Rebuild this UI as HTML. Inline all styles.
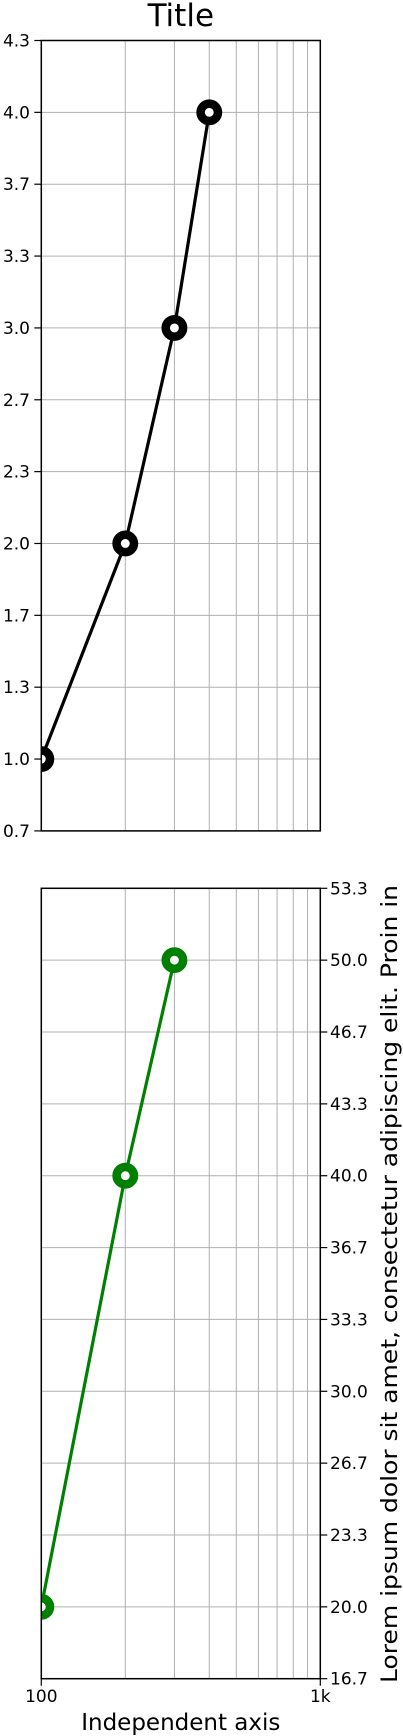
<!DOCTYPE html>
<html><head><meta charset="utf-8">
<style>
html,body{margin:0;padding:0;background:#fff;}
svg{display:block;font-family:"DejaVu Sans","Liberation Sans",sans-serif;}
</style></head>
<body>
<svg id="chart" width="403" height="1736" viewBox="0 0 403 1736" xmlns="http://www.w3.org/2000/svg">
<defs>
<clipPath id="clipTop"><rect x="41.3" y="40.5" width="279" height="790.4"/></clipPath>
<clipPath id="clipBot"><rect x="41.3" y="888.3" width="279" height="790.4"/></clipPath>
</defs>
<text x="180.8" y="26" font-size="31" text-anchor="middle">Title</text>
<g id="top"></g>
<g id="bot"></g>
<text x="180.8" y="1730" font-size="23" text-anchor="middle">Independent axis</text>
<text transform="translate(397,1683) rotate(-90)" font-size="22" textLength="798" lengthAdjust="spacingAndGlyphs">Lorem ipsum dolor sit amet, consectetur adipiscing elit. Proin in</text>
</svg>
<script>
const topX = [100, 200, 300, 400];
const topY = [1, 2, 3, 4];
const botX = [100, 200, 300];
const botY = [20, 40, 50];
const topTicks = ["0.7","1.0","1.3","1.7","2.0","2.3","2.7","3.0","3.3","3.7","4.0","4.3"];
const botTicks = ["16.7","20.0","23.3","26.7","30.0","33.3","36.7","40.0","43.3","46.7","50.0","53.3"];
const xTickLabels = ["100","1k"];

const NS = "http://www.w3.org/2000/svg";
const L = 41.3, R = 320.3;
function xs(v){ return L + (Math.log10(v) - 2) * (R - L); }
function mk(tag, attrs, parent){
  const e = document.createElementNS(NS, tag);
  for (const k in attrs) e.setAttribute(k, attrs[k]);
  parent.appendChild(e); return e;
}
function panel(g, top, bottom, ymin, ymax, ticks, xs_, ys_, color, clip, side){
  const ys = v => bottom - (v - ymin) / (ymax - ymin) * (bottom - top);
  // grid x
  for (let d = 1; d <= 10; d++){
    const x = xs(d * 100);
    const gl = mk("line", {x1:x, x2:x, y1:top, y2:bottom, stroke:"#b0b0b0", "stroke-width":1}, g);
    
    
  }
  ticks.forEach((t, i) => {
    const v = ymin + i * (ymax - ymin) / (ticks.length - 1);
    const y = ys(v);
    const gl = mk("line", {x1:L, x2:R, y1:y, y2:y, stroke:"#b0b0b0", "stroke-width":1}, g);
    
    
    const tx = side === "left" ? L : R;
    const tk = mk("line", {x1:tx, x2: side==="left" ? tx-7 : tx+7, y1:y, y2:y, stroke:"#000", "stroke-width":1.2}, g);
    
    
    const lb = mk("text", {x: side==="left" ? 30 : 330, y: y + 6, "font-size":17, "text-anchor": side==="left" ? "end" : "start"}, g);
    lb.textContent = t;
    
    
  });
  const cg = mk("g", {"clip-path":"url(#"+clip+")"}, g);
  const pts = xs_.map((x, i) => xs(x) + "," + ys(ys_[i])).join(" ");
  const pl = mk("polyline", {points:pts, fill:"none", stroke:color, "stroke-width":3.2}, cg);
  
  
  xs_.forEach((x, i) => {
    const c = mk("circle", {cx:xs(x), cy:ys(ys_[i]), r:8.7, fill:"#fff", stroke:color, "stroke-width":8.5}, cg);
    
    
  });
  const fr = mk("rect", {x:L, y:top, width:R-L, height:bottom-top, fill:"none", stroke:"#000", "stroke-width":1.5}, g);
  
  
}
panel(document.getElementById("top"), 40.5, 830.9, 2/3, 13/3, topTicks, topX, topY, "#000", "clipTop", "left");
panel(document.getElementById("bot"), 888.3, 1678.7, 50/3, 160/3, botTicks, botX, botY, "#008000", "clipBot", "right");
const bg = document.getElementById("bot");
[100, 1000].forEach((v, i) => {
  const t = mk("line", {x1:xs(v), x2:xs(v), y1:1678.7, y2:1685.7, stroke:"#000", "stroke-width":1.2}, bg);
  
  
  const lb = mk("text", {x:xs(v), y:1702, "font-size":17, "text-anchor":"middle"}, bg);
  lb.textContent = xTickLabels[i];
  
  
});
</script>
</body></html>
